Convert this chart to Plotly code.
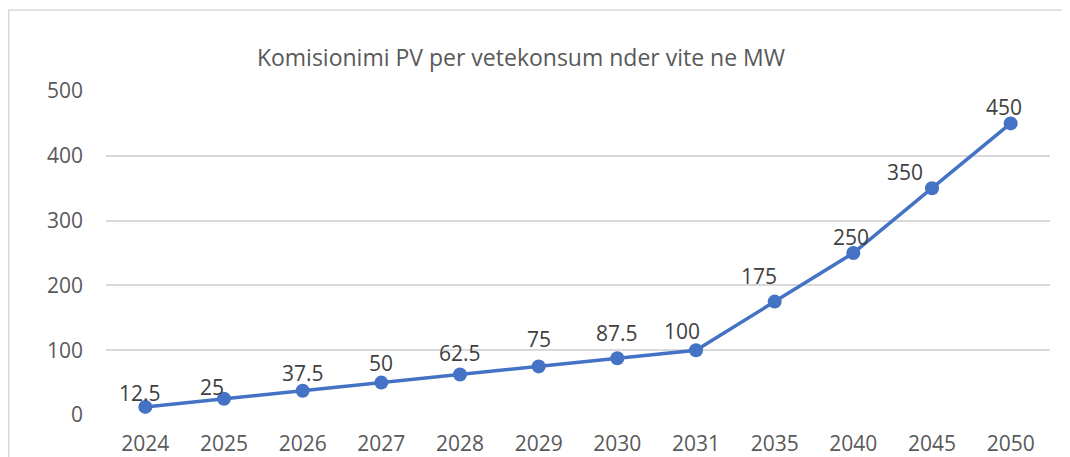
import plotly.graph_objects as go

years = ["2024", "2025", "2026", "2027", "2028", "2029", "2030", "2031", "2035", "2040", "2045", "2050"]
values = [12.5, 25, 37.5, 50, 62.5, 75, 87.5, 100, 175, 250, 350, 450]
labels = ["12.5", "25", "37.5", "50", "62.5", "75", "87.5", "100", "175", "250", "350", "450"]
title_text = "Komisionimi PV per vetekonsum nder vite ne MW"

# label placement offsets (pixels), style only
label_dx = [-5, -12, 0, 0, 0, 0, 0, -14, -16, -2, -27, -7]
label_dy = [14, 12, 18, 20, 22, 27, 25, 19, 26, 16, 16, 16]

FONT = "Open Sans"
fig = go.Figure()
fig.add_trace(go.Scatter(
    x=years, y=values, mode="lines+markers",
    line=dict(color="#4472C4", width=3.5),
    marker=dict(color="#4472C4", size=14),
    cliponaxis=False, showlegend=False, hoverinfo="x+y",
))

# category axis positions are indices of the categories
for i, (yv, t, dx, dy) in enumerate(zip(values, labels, label_dx, label_dy)):
    fig.add_annotation(x=i, y=yv, xref="x", yref="y", text=t, showarrow=False,
                       xshift=dx, yshift=dy, xanchor="center", yanchor="middle",
                       font=dict(family=FONT, size=21, color="#404040"))

fig.update_layout(
    template="none",
    width=1062, height=449,
    margin=dict(l=98, r=20, t=83, b=42, autoexpand=False),
    paper_bgcolor="white", plot_bgcolor="white",
    title=dict(text=title_text, x=0.483, xanchor="center", y=0.889, yanchor="middle",
               font=dict(family=FONT, size=23, color="#595959")),
    xaxis=dict(type="category", range=[-0.5, 11.5], showgrid=False, showline=False, ticks="",
               ticklabelstandoff=14, automargin=False, zeroline=False,
               tickfont=dict(family=FONT, size=21, color="#595959")),
    yaxis=dict(range=[0, 500], dtick=100, showgrid=True, gridcolor="#d9d9d9", gridwidth=1.5,
               zeroline=False, showline=False, ticks="", ticklabelstandoff=22, automargin=False,
               tickfont=dict(family=FONT, size=21, color="#595959")),
    shapes=[dict(type="rect", xref="paper", yref="paper", x0=-0.1030, x1=1.2, y0=-0.5, y1=1.25,
                 line=dict(color="#d9d9d9", width=1.5), layer="below")],
)

fig.write_html("out.html")
